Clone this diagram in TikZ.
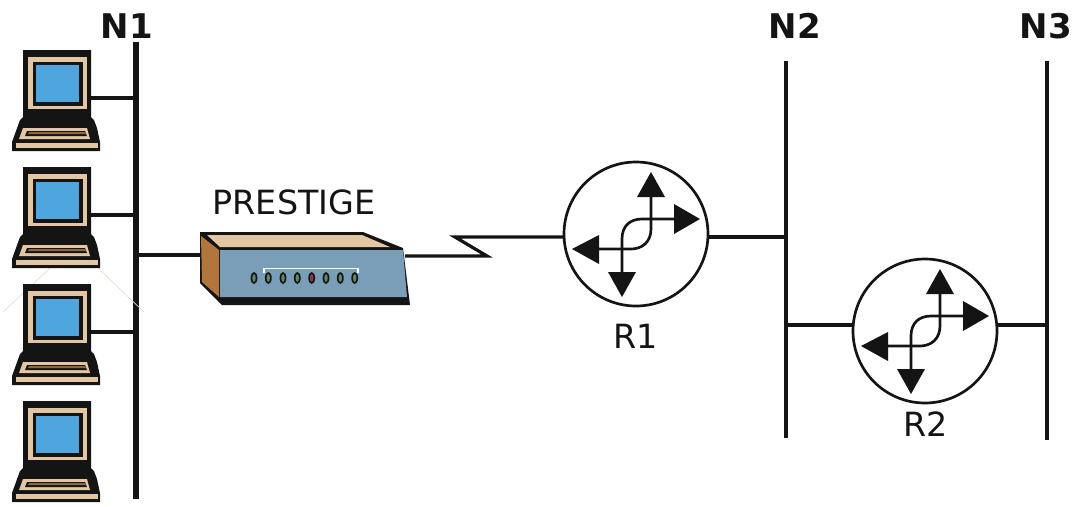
\documentclass[tikz,border=0pt]{standalone}
\usepackage{fontspec}
\setmainfont{DejaVu Sans}
\definecolor{ink}{HTML}{141414}
\definecolor{beige}{HTML}{E3C6A4}
\definecolor{screen}{HTML}{4FA6DF}
\definecolor{strip}{HTML}{8A6A3C}
\definecolor{brownface}{HTML}{B0763C}
\definecolor{blueface}{HTML}{7A9DB8}
\definecolor{ledgreen}{HTML}{5E8A62}
\definecolor{ledred}{HTML}{8A3A50}
\definecolor{faint}{HTML}{E8DCCB}
\tikzset{
  x=0.75pt,y=-0.75pt,
  bus/.style={draw=ink,line width=3.9pt},
  thinbus/.style={draw=ink,line width=2.4pt},
  stub/.style={draw=ink,line width=3pt},
  wire/.style={draw=ink,line width=2.4pt},
  router/.style={circle,draw=ink,line width=2pt,minimum size=108pt,inner sep=0pt,fill=white},
  flow/.style={draw=ink,line width=2pt},
  head/.style={fill=ink,draw=none},
  netlabel/.style={font=\fontsize{25.5}{26}\selectfont\bfseries,text=ink,inner sep=0pt},
  textlabel/.style={font=\fontsize{25}{25}\selectfont,text=ink,inner sep=0pt},
  pc/.pic={
    \fill[ink] (23,50)--(91,50)--(91,117)--(94,120)--(97,128)--(100,142)--(100,151)--(12,151)--(12,142)--(20,120)--(23,117)--cycle;
    \fill[beige] (28,57) rectangle (87,109);
    \fill[ink] (33,62) rectangle (83,106);
    \fill[screen] (36,65) rectangle (79,102);
    \fill[beige] (23,128)--(87,128)--(90,139)--(19,139)--cycle;
    \fill[ink] (27,131)--(85,131)--(87,136)--(25,136)--cycle;
    \fill[strip] (29,132)--(85,132)--(86,134)--(28,134)--cycle;
    \fill[beige] (16,143) rectangle (98,148);
    \coordinate (-port) at (91,98);
  },
  flows/.pic={
    \draw[flow] (15,-37)--(15,-5) .. controls (15,8) and (6,15) .. (-5,15)--(-37,15);
    \draw[flow] (-14,38)--(-14,5) .. controls (-14,-8) and (-6,-15) .. (6,-15)--(38,-15);
    \fill[head] (15,-62)--(29,-37)--(1,-37)--cycle;
    \fill[head] (64,-15)--(38,-30)--(38,0)--cycle;
    \fill[head] (-64,15)--(-37,1)--(-37,30)--cycle;
    \fill[head] (-14,63)--(-28,38)--(0,38)--cycle;
  },
}
\begin{document}
\begin{tikzpicture}
\useasboundingbox (0,0) rectangle (1076,507);
% buses
\coordinate (n1top) at (136,42);
\coordinate (n1bot) at (136,499);
\coordinate (n2top) at (786,61);
\coordinate (n2bot) at (786,438);
\coordinate (n3top) at (1047,61);
\coordinate (n3bot) at (1047,440);
\draw[bus] (n1top)--(n1bot);
\draw[thinbus] (n2top)--(n2bot);
\draw[thinbus] (n3top)--(n3bot);
\node[netlabel] (n1) at (127,26) {N1};
\node[netlabel] (n2) at (795,26) {N2};
\node[netlabel] (n3) at (1046,26) {N3};
% faint marks
\draw[faint,line width=0.5pt] (50,268)--(3,312);
\draw[faint,line width=0.5pt] (98,268)--(144,312);
% computers
\pic (pca) at (0,0) {pc};
\pic (pcb) at (0,117) {pc};
\pic (pcc) at (0,234) {pc};
\pic (pcd) at (0,351) {pc};
\draw[stub] (pca-port)--(pca-port -| n1top);
\draw[stub] (pcb-port)--(pcb-port -| n1top);
\draw[stub] (pcc-port)--(pcc-port -| n1top);
% Prestige
\coordinate (devl) at (200,255);
\coordinate (devr) at (405,256);
\coordinate (zaga) at (487,256);
\coordinate (zagb) at (455,237);
\draw[wire] (devl -| n1top)--(devl);
\fill[ink] (200,232)--(363,232)--(403,248)--(410,305)--(222,305)--(200,283)--cycle;
\fill[brownface] (201,236)--(219,250)--(219,297)--(202,282)--cycle;
\fill[beige] (207,235)--(362,235)--(390,247)--(220,247)--cycle;
\fill[blueface] (220,250)--(403,250)--(407,297)--(220,297)--cycle;
\draw[white,line width=0.8pt] (264,273)--(264,268.5)--(358,268.5)--(358,273);
\foreach \lx/\lc in {254/ledgreen,268.3/ledgreen,283/ledgreen,297.3/ledgreen,311.7/ledred,326/ledgreen,340.3/ledgreen,354.7/ledgreen}{
  \fill[ink] (\lx,278) ellipse [x radius=3.4,y radius=6];
  \fill[\lc] (\lx,278) ellipse [x radius=1.7,y radius=3.8];
}
\node[textlabel] (prestige) at (294,202) {PRESTIGE};
% routers
\node[router] (r1) at (636,234) {};
\node[router] (r2) at (925,331) {};
\pic at (r1.center) {flows};
\pic at (r2.center) {flows};
\node[textlabel] (r1label) at (636,336) {R1};
\node[textlabel] (r2label) at (926,424) {R2};
% links
\coordinate (r1w) at (565,237);
\coordinate (r1e) at (708,237);
\coordinate (r2w) at (853,325);
\coordinate (r2e) at (997,325);
\draw[wire,line join=miter] (devr)--(zaga)--(zagb)--(r1w);
\draw[wire] (r1e)--(r1e -| n2top);
\draw[wire] (r2w -| n2top)--(r2w);
\draw[wire] (r2e)--(r2e -| n3top);
\end{tikzpicture}
\end{document}
